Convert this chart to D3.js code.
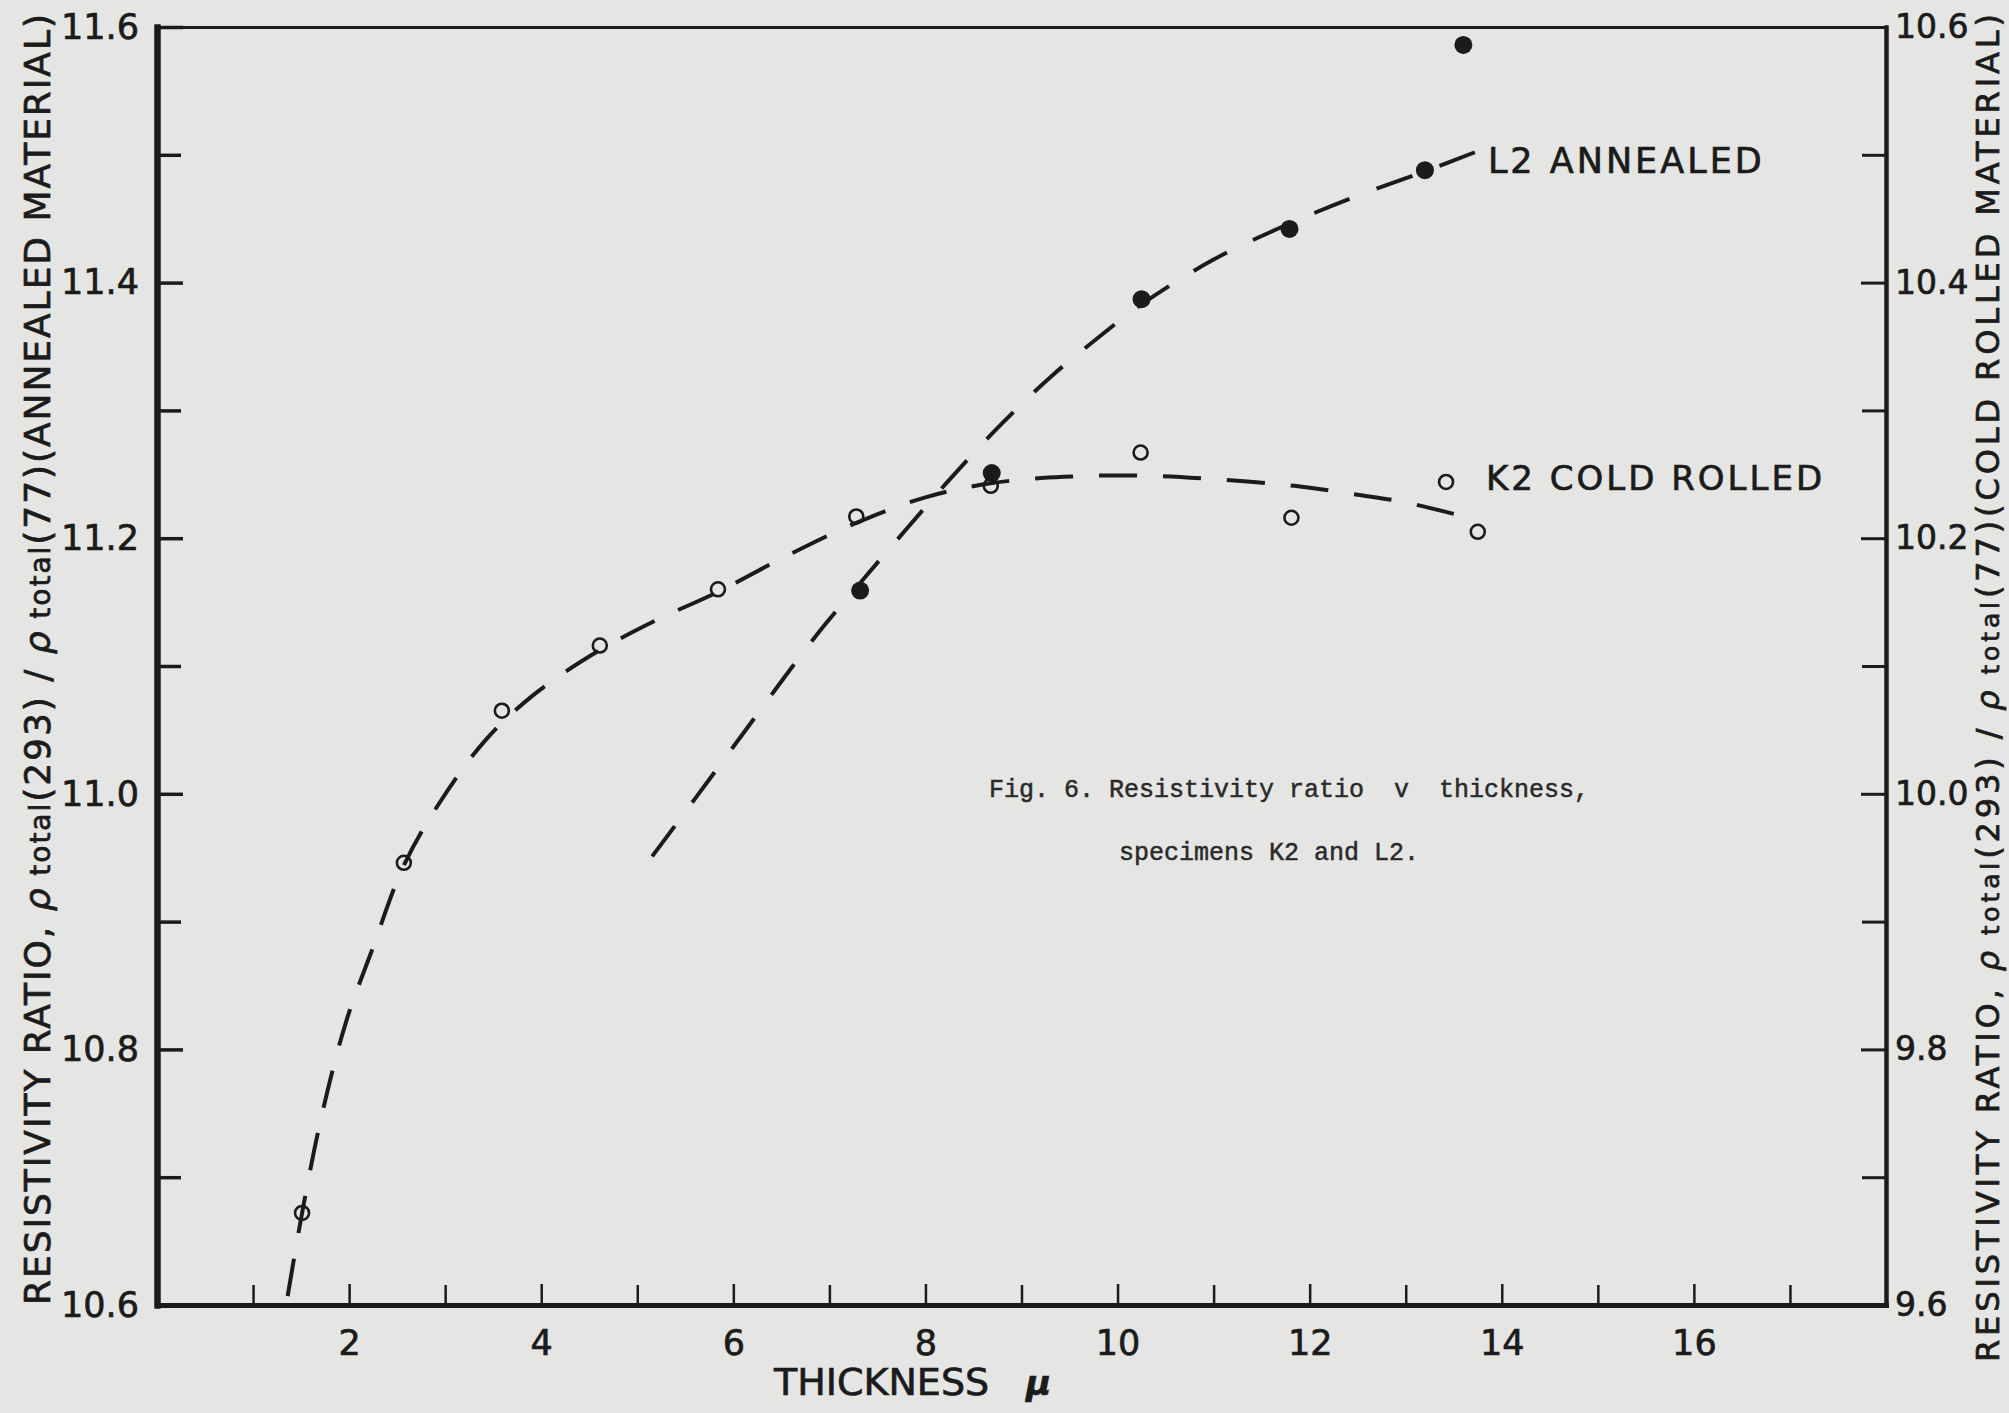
<!DOCTYPE html>
<html>
<head>
<meta charset="utf-8">
<script src="https://cdn.jsdelivr.net/npm/d3@7"></script>
<style>
  body { margin: 0; background: #e5e5e3; }
  svg { display: block; }
  .lettering { font-family: "DejaVu Sans", sans-serif; fill: #1b1b1b; stroke: #1b1b1b; stroke-width: 0.7px; }
  .caption { font-family: "Liberation Mono", monospace; fill: #2a2a2a; stroke: #2a2a2a; stroke-width: 0.5px; }
</style>
</head>
<body>
<svg id="drawing_region"></svg>
<script>
// K2 cold rolled, open circles
const k2_x = [1.51, 2.57, 3.59, 4.61, 5.84, 7.28, 8.68, 10.24, 11.81, 13.42, 13.75];
const k2_y = [10.672, 10.946, 11.065, 11.116, 11.160, 11.217, 11.241, 11.267, 11.216, 11.244, 11.205];

// L2 annealed, filled circles
const l2_x = [7.32, 8.69, 10.25, 11.79, 13.20, 13.60];
const l2_y = [11.159, 11.251, 11.387, 11.442, 11.488, 11.586];

// dashed curves drawn by hand through the points
const k2_curve_x = [1.36, 1.52, 1.72, 1.97, 2.23, 2.57, 2.95, 3.42, 3.93, 4.60, 5.20, 5.84, 6.55, 7.28, 8.00, 8.68, 9.44, 10.24, 11.04, 11.84, 12.50, 13.00, 13.50];
const k2_curve_y = [10.607, 10.676, 10.750, 10.822, 10.876, 10.944, 10.994, 11.042, 11.078, 11.112, 11.136, 11.158, 11.186, 11.212, 11.232, 11.243, 11.248, 11.249, 11.246, 11.241, 11.234, 11.228, 11.219];
const l2_curve_x = [5.155, 5.60, 6.10, 6.62, 6.95, 7.32, 7.80, 8.30, 8.80, 9.30, 9.80, 10.25, 11.00, 11.785, 12.50, 13.20, 13.72];
const l2_curve_y = [10.951, 10.996, 11.047, 11.100, 11.132, 11.165, 11.207, 11.250, 11.290, 11.326, 11.357, 11.383, 11.418, 11.446, 11.468, 11.487, 11.502];

// ticks
const x_major = [2, 4, 6, 8, 10, 12, 14, 16];
const x_minor = [1, 3, 5, 7, 9, 11, 13, 15, 17];
const y_major = [10.6, 10.8, 11.0, 11.2, 11.4, 11.6];
const y_minor = [10.7, 10.9, 11.1, 11.3, 11.5];
const yr_major = [9.6, 9.8, 10.0, 10.2, 10.4, 10.6];
const yr_minor = [9.7, 9.9, 10.1, 10.3, 10.5];

const ink = '#1b1b1b';
const width = 2009, height = 1413;

const svg = d3.select('#drawing_region')
    .attr('width', width)
    .attr('height', height);

const xscale = d3.scaleLinear().domain([0, 18]).range([157, 1886]);
const yscale = d3.scaleLinear().domain([10.6, 11.6]).range([1305, 27]);
const yscale_r = d3.scaleLinear().domain([9.6, 10.6]).range([1305, 27]);

function style_axis(g, domain_width, tick_width, font_size) {
    g.attr('font-family', null).attr('font-size', null);
    g.select('.domain').attr('stroke', ink).attr('stroke-width', domain_width)
        .attr('stroke-linecap', 'square');
    g.selectAll('.tick line').attr('stroke', ink).attr('stroke-width', tick_width);
    g.selectAll('.tick text').attr('class', 'lettering').attr('fill', ink)
        .attr('font-size', font_size);
}

// top frame line
svg.append('g')
    .attr('transform', `translate(0, ${yscale(11.6)})`)
    .call(d3.axisTop(xscale).tickValues([]).tickSizeOuter(0))
    .call(g => style_axis(g, 3, 0, 0));

// right axis
svg.append('g')
    .attr('transform', `translate(${xscale(18)}, 0)`)
    .call(d3.axisRight(yscale_r).tickValues(yr_minor).tickSize(-24).tickSizeOuter(0).tickFormat(''))
    .call(g => style_axis(g, 4, 3, 0));
svg.append('g')
    .attr('transform', `translate(${xscale(18)}, 0)`)
    .call(d3.axisRight(yscale_r).tickValues(yr_major).tickSize(-25).tickSizeOuter(0)
          .tickPadding(9).tickFormat(d3.format('.1f')))
    .call(g => style_axis(g, 4, 3, 33));

// left axis
svg.append('g')
    .attr('transform', `translate(${xscale(0)}, 0)`)
    .call(d3.axisLeft(yscale).tickValues(y_minor).tickSize(-24).tickSizeOuter(0).tickFormat(''))
    .call(g => style_axis(g, 6, 3.5, 0));
svg.append('g')
    .attr('transform', `translate(${xscale(0)}, 0)`)
    .call(d3.axisLeft(yscale).tickValues(y_major).tickSize(-26).tickSizeOuter(0)
          .tickPadding(18).tickFormat(d3.format('.1f')))
    .call(g => style_axis(g, 6, 3.5, 35));

// bottom axis
svg.append('g')
    .attr('transform', `translate(0, ${yscale(10.6)})`)
    .call(d3.axisBottom(xscale).tickValues(x_minor).tickSize(-20).tickSizeOuter(0).tickFormat(''))
    .call(g => style_axis(g, 5, 2.5, 0));
svg.append('g')
    .attr('transform', `translate(0, ${yscale(10.6)})`)
    .call(d3.axisBottom(xscale).tickValues(x_major).tickSize(-21).tickSizeOuter(0)
          .tickPadding(25).tickFormat(d3.format('d')))
    .call(g => style_axis(g, 5, 2.5, 35));

// dashed curves
const line = d3.line()
    .x(d => xscale(d[0]))
    .y(d => yscale(d[1]))
    .curve(d3.curveCatmullRom.alpha(0.5));

const dash = 38, gap = 27;

function dashed(xs, ys) {
    const p = svg.append('path')
        .attr('d', line(d3.zip(xs, ys)))
        .attr('fill', 'none')
        .attr('stroke', ink)
        .attr('stroke-width', 4);
    // stretch the gaps a little so both ends finish on a whole dash
    const len = p.node().getTotalLength();
    const n = Math.max(1, Math.round((len - dash) / (dash + gap)));
    const g2 = (len - dash) / n - dash;
    p.attr('stroke-dasharray', `${dash},${g2}`);
}
dashed(k2_curve_x, k2_curve_y);
dashed(l2_curve_x, l2_curve_y);

// points
svg.append('g').selectAll('circle')
    .data(d3.zip(k2_x, k2_y))
    .join('circle')
    .attr('cx', d => xscale(d[0]))
    .attr('cy', d => yscale(d[1]))
    .attr('r', 7)
    .attr('fill', 'none')
    .attr('stroke', ink)
    .attr('stroke-width', 2.6);

svg.append('g').selectAll('circle')
    .data(d3.zip(l2_x, l2_y))
    .join('circle')
    .attr('cx', d => xscale(d[0]))
    .attr('cy', d => yscale(d[1]))
    .attr('r', 9)
    .attr('fill', ink);

// curve labels
svg.append('text')
    .attr('class', 'lettering')
    .attr('x', xscale(l2_curve_x[l2_curve_x.length - 1]) + 13)
    .attr('y', yscale(l2_curve_y[l2_curve_y.length - 1]) + 21)
    .attr('font-size', 35)
    .attr('letter-spacing', 3)
    .text('L2 ANNEALED');

svg.append('text')
    .attr('class', 'lettering')
    .attr('x', xscale(k2_x[9]) + 40)
    .attr('y', yscale(k2_y[9]) + 8)
    .attr('font-size', 34)
    .attr('letter-spacing', 3)
    .text('K2 COLD ROLLED');

// x axis title
const xt = svg.append('text')
    .attr('class', 'lettering')
    .attr('x', 774)
    .attr('y', 1395)
    .attr('font-size', 38);
xt.append('tspan').text('THICKNESS');
xt.append('tspan').attr('x', 1026).attr('font-style', 'italic').attr('font-weight', 'bold')
    .attr('font-size', 34).text('μ');

// y axis titles
function axis_title(x, y, len, size, tail) {
    const t = svg.append('text')
        .attr('class', 'lettering')
        .attr('transform', `translate(${x}, ${y}) rotate(-90)`)
        .attr('font-size', size)
        .attr('textLength', len)
        .attr('lengthAdjust', 'spacing');
    t.append('tspan').text('RESISTIVITY RATIO,  ');
    t.append('tspan').attr('font-style', 'italic').text('ρ');
    t.append('tspan').attr('font-size', size * 0.78).text(' total');
    t.append('tspan').text('(293) / ');
    t.append('tspan').attr('font-style', 'italic').text('ρ');
    t.append('tspan').attr('font-size', size * 0.78).text(' total');
    t.append('tspan').text(tail);
}
axis_title(50, 1305, 1291, 36, '(77)(ANNEALED MATERIAL)');
axis_title(1999, 1362, 1348, 32, '(77)(COLD ROLLED MATERIAL)');

// caption
svg.append('text')
    .attr('class', 'caption')
    .attr('x', 989)
    .attr('y', 797)
    .attr('font-size', 25)
    .style('white-space', 'pre')
    .text('Fig. 6. Resistivity ratio  v  thickness,');
svg.append('text')
    .attr('class', 'caption')
    .attr('x', 1119)
    .attr('y', 860)
    .attr('font-size', 25)
    .style('white-space', 'pre')
    .text('specimens K2 and L2.');
</script>
</body>
</html>
